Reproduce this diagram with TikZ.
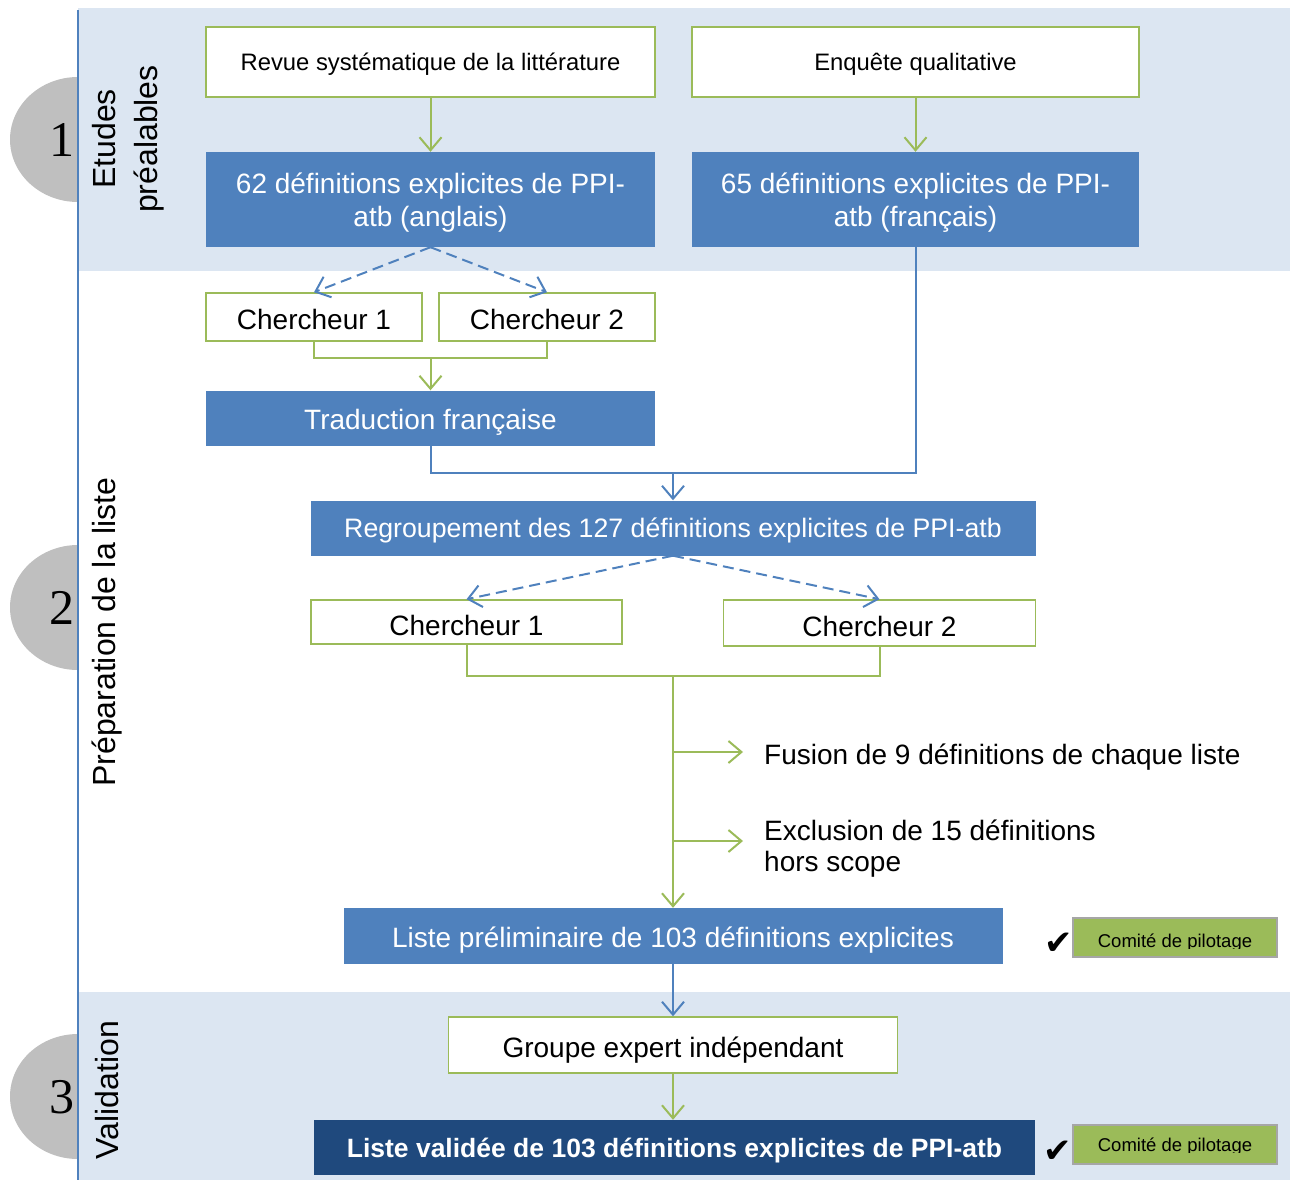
\documentclass[tikz,border=0pt]{standalone}
\usepackage{fontspec}
\setmainfont{Liberation Sans}
\newfontfamily\numfont{Liberation Serif}
\newfontfamily\symfont{DejaVu Sans}
\usetikzlibrary{arrows.meta}
\definecolor{bandblue}{HTML}{DCE6F2}
\definecolor{midblue}{HTML}{4F81BD}
\definecolor{darkblue}{HTML}{1F497D}
\definecolor{leafgreen}{HTML}{9BBB59}
\definecolor{circgray}{HTML}{BFBFBF}
\definecolor{edgegray}{HTML}{A6A6A6}
\begin{document}
\begin{tikzpicture}[x=1pt,y=-1pt,
  wbox/.style={draw=leafgreen, line width=1.5pt, fill=white, inner sep=0pt, align=center, text=black},
  bbox/.style={fill=midblue, text=white, inner sep=0pt, align=center},
  dbox/.style={fill=darkblue, text=white, inner sep=0pt, align=center},
  cbox/.style={fill=leafgreen, draw=edgegray, line width=2pt, inner sep=0pt},
  txh/.style={text height=#1, text depth=0pt},
  fa/.style={font=\fontsize{23.8}{28}\selectfont},
  fb/.style={font=\fontsize{28}{33}\selectfont},
  fc/.style={font=\fontsize{26.7}{31}\selectfont},
  vlab/.style={rotate=90, align=center, font=\fontsize{32}{42}\selectfont},
  numlab/.style={font=\numfont\fontsize{50}{50}\selectfont},
  gline/.style={draw=leafgreen, line width=2pt},
  bline/.style={draw=midblue, line width=2pt},
  tip/.style={-{Straight Barb[length=13pt,width=22pt]}},
  dash2/.style={dash pattern=on 11pt off 6pt},
  chk/.style={font=\symfont\fontsize{34}{34}\selectfont},
  comtext/.style={font=\fontsize{18.5}{20}\selectfont, anchor=base, inner sep=0pt},
  wtext/.style={text=white, anchor=base, inner sep=0pt, font=\fontsize{28}{33}\selectfont}
]
\useasboundingbox (0,0) rectangle (1295,1180);
% bands
\fill[bandblue] (78,8) rectangle (1290,271);
\fill[bandblue] (78,992) rectangle (1290,1180);
% half discs
\begin{scope}
  \clip (0,0) rectangle (78,1180);
  \fill[circgray] (78,139.5) ellipse [x radius=68pt, y radius=62.5pt];
  \fill[circgray] (78,607.5) ellipse [x radius=68pt, y radius=62.5pt];
  \fill[circgray] (78,1096.5) ellipse [x radius=68pt, y radius=62.5pt];
\end{scope}
\draw[midblue, line width=2pt] (78,10) -- (78,1180);
\node[numlab] (n1) at (62,140) {1};
\node[numlab] (n2) at (62,608) {2};
\node[numlab] (n3) at (62,1097) {3};
\node[vlab] (l1) at (128,139) {Etudes\\préalables};
\node[vlab] (l2) at (107,632) {Préparation de la liste};
\node[vlab] (l3) at (107,1090) {Validation};

% phase 1
\node[wbox, fa, txh=17pt, minimum width=449pt, minimum height=70pt] (revue) at (430.5,62) {Revue systématique de la littérature};
\node[wbox, fa, txh=17pt, minimum width=447pt, minimum height=70pt] (enq) at (915.5,62) {Enquête qualitative};
\node[bbox, minimum width=449pt, minimum height=95pt] (d62) at (430.5,199.5) {};
\node[wtext] (d62a) at (430.5,193) {62 définitions explicites de PPI-};
\node[wtext] (d62b) at (430.5,226) {atb (anglais)};
\node[bbox, minimum width=447pt, minimum height=95pt] (d65) at (915.5,199.5) {};
\node[wtext] (d65a) at (915.5,193) {65 définitions explicites de PPI-};
\node[wtext] (d65b) at (915.5,226) {atb (français)};
\draw[gline, tip] (revue.south) -- (d62.north);
\draw[gline, tip] (enq.south) -- (d65.north);

% phase 2
\node[wbox, fb, txh=25pt, minimum width=216pt, minimum height=48pt] (ch1a) at (314,317) {Chercheur 1};
\node[wbox, fb, txh=25pt, minimum width=216pt, minimum height=48pt] (ch2a) at (547,317) {Chercheur 2};
\draw[bline, dash2, tip] (d62.south) -- (ch1a.north);
\draw[bline, dash2, tip] (d62.south) -- (ch2a.north);
\node[bbox, fb, txh=22.5pt, minimum width=449pt, minimum height=55pt] (trad) at (430.5,418) {Traduction française};
\coordinate (m1) at (430.5,358);
\draw[gline] (ch1a.south) |- (m1) -| (ch2a.south);
\draw[gline, tip] (m1) -- (trad.north);

\node[bbox, fc, txh=19.2pt, minimum width=725pt, minimum height=55pt] (reg) at (673,528) {Regroupement des 127 définitions explicites de PPI-atb};
\coordinate (m2) at (673,472.5);
\draw[bline] (trad.south) |- (m2);
\draw[bline] (d65.south) |- (m2);
\draw[bline, tip] (m2) -- (reg.north);

\node[wbox, minimum width=311pt, minimum height=44pt] (ch1b) at (466.5,622) {};
\begin{scope}
  \clip (311,600) rectangle (622,635.5);
  \node[fb, anchor=base, inner sep=0pt] (ch1bt) at (466.5,635.5) {Chercheur 1};
\end{scope}
\node[wbox, fb, txh=26pt, minimum width=312pt, minimum height=46pt] (ch2b) at (879.5,623) {Chercheur 2};
\draw[bline, dash2, tip] (reg.south) -- (ch1b.north);
\draw[bline, dash2, tip] (reg.south) -- (ch2b.north);

\node[bbox, fb, txh=22pt, minimum width=659pt, minimum height=56pt] (prel) at (673,936) {Liste préliminaire de 103 définitions explicites};
\coordinate (m3) at (673,676);
\draw[gline] (ch1b.south) |- (m3) -| (ch2b.south);
\draw[gline, tip] (m3) -- (prel.north);

\coordinate (b1) at (673,752);
\coordinate (b1e) at (743,752);
\coordinate (b2) at (673,841);
\coordinate (b2e) at (743,841);
\draw[gline, tip] (b1) -- (b1e);
\draw[gline, tip] (b2) -- (b2e);
\node[fb, anchor=base west, inner sep=0pt] (fus) at (764,764) {Fusion de 9 définitions de chaque liste};
\node[fb, anchor=base west, inner sep=0pt] (excl1) at (764,840) {Exclusion de 15 définitions};
\node[fb, anchor=base west, inner sep=0pt] (excl2) at (764,871) {hors scope};

% comité 1
\node[chk] (chk1) at (1059,944) {✔};
\node[cbox, minimum width=204pt, minimum height=39pt] (com1) at (1175,937.5) {};
\begin{scope}
  \clip (1074,919) rectangle (1276,948.5);
  \node[comtext] (com1t) at (1175,947) {Comité de pilotage};
\end{scope}

% phase 3
\node[wbox, fb, txh=25.5pt, minimum width=449pt, minimum height=56pt] (grp) at (673,1045) {Groupe expert indépendant};
\draw[bline, tip] (prel.south) -- (grp.north);
\node[dbox, txh=19pt, minimum width=721pt, minimum height=55pt, font=\bfseries\fontsize{26.5}{31}\selectfont] (valid) at (674.5,1147.5) {Liste validée de 103 définitions explicites de PPI-atb};
\draw[gline, tip] (grp.south) -- (grp.south |- valid.north);

\node[chk] (chk2) at (1058,1152) {✔};
\node[cbox, minimum width=204pt, minimum height=39pt] (com2) at (1175,1144.5) {};
\begin{scope}
  \clip (1074,1126) rectangle (1276,1152.5);
  \node[comtext] (com2t) at (1175,1151) {Comité de pilotage};
\end{scope}
\end{tikzpicture}
\end{document}
